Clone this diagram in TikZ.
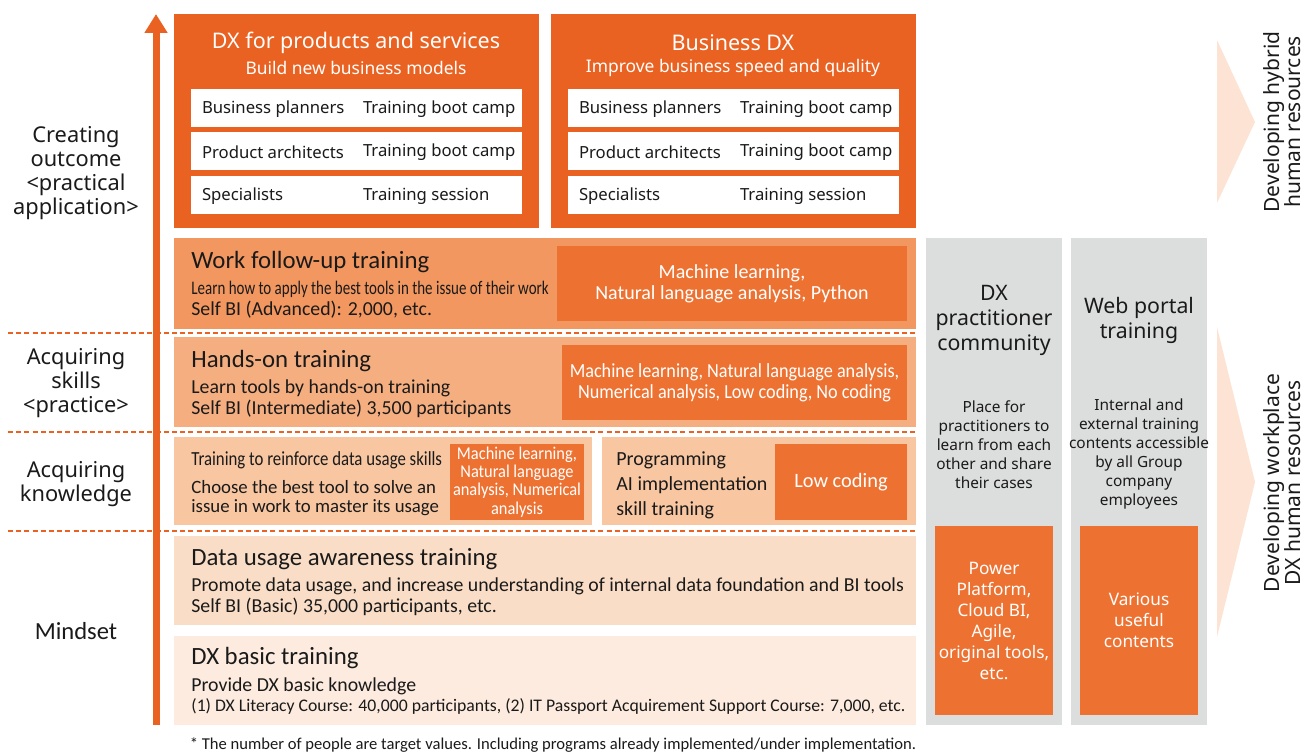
\documentclass[tikz,border=0pt]{standalone}
\usepackage{fontspec}
\setmainfont{Noto Sans}
\newfontfamily\calfont{Carlito}
\newfontfamily\narrowfont{Carlito}[FakeStretch=0.84]
\newfontfamily\slimfont{Carlito}[FakeStretch=0.78]
\newfontfamily\tightfont{Carlito}[FakeStretch=0.91]
\usetikzlibrary{arrows.meta,positioning,calc,fit}
\definecolor{Orange}{HTML}{EA6221}
\definecolor{Inner}{HTML}{ED7232}
\definecolor{Work}{HTML}{F2975F}
\definecolor{Hands}{HTML}{F5AE80}
\definecolor{Reinf}{HTML}{F8C6A1}
\definecolor{Aware}{HTML}{FADDC6}
\definecolor{Basic}{HTML}{FCEBDE}
\definecolor{Grey}{HTML}{DCDDDD}
\definecolor{Peach}{HTML}{FCE3D3}
\definecolor{Ink}{HTML}{1A1A1A}
\tikzset{
  panel/.style={inner sep=0pt,draw=none},
  heading/.style={anchor=west,inner sep=0pt,text=Ink,
    font=\calfont\fontsize{12.4}{14}\selectfont},
  detail/.style={anchor=west,inner sep=0pt,text=Ink,
    font=\calfont\fontsize{9.9}{11}\selectfont},
  tool/.style={inner sep=0pt,align=center,text=white,
    font=\calfont\fontsize{10}{10.5}\selectfont},
  stage/.style={inner sep=0pt,align=center,text=Ink,
    font=\fontsize{10.9}{12}\selectfont},
  rowtext/.style={anchor=west,inner sep=0pt,text=Ink,
    font=\fontsize{8.35}{10}\selectfont},
  sidetitle/.style={inner sep=0pt,align=center,text=Ink,
    font=\fontsize{10.65}{12.5}\selectfont},
  sidetext/.style={inner sep=0pt,align=center,text=Ink,
    font=\fontsize{7.7}{9.5}\selectfont},
  level/.style={Orange,line width=0.7pt,dash pattern=on 2.5pt off 1.6pt},
  growth/.style={Orange,line width=3.5pt,-{Triangle[width=11pt,length=9.5pt]}}
}
\begin{document}
\begin{tikzpicture}[x=0.5pt,y=-0.5pt]
  \useasboundingbox (0,0) rectangle (1307,754);
  % level separators
  \foreach \y in {333,432,531}
    \draw[level] (8,\y) -- (916,\y);
  % growth arrow
  \coordinate (base) at (156,725);
  \coordinate (peak) at (156,14);
  \draw[growth] (base) -- (peak);
  % stage labels
  \node[stage] (outcome) at (76,173) {Creating\\outcome\\<practical\\application>};
  \node[stage] (skills) at (76,383) {Acquiring\\skills\\<practice>};
  \node[stage] (knowledge) at (76,484) {Acquiring\\knowledge};
  \node[stage,font=\calfont\fontsize{12.3}{14}\selectfont] (mindset) at (76,631) {Mindset};
  % top blocks
  \foreach \blk/\dx/\title/\sub in {prod/0/DX for products and services/Build new business models,
      biz/377/Business DX/Improve business speed and quality} {
    \node[panel,fill=Orange,fit={(174+\dx,14) (539+\dx,228)}] (\blk) {};
    \node[inner sep=0pt,text=white,font=\fontsize{10.75}{12}\selectfont]
      (\blk-title) at (356+\dx,43) {\title};
    \node[inner sep=0pt,text=white,font=\fontsize{8.7}{10}\selectfont]
      (\blk-sub) at (356+\dx,68) {\sub};
    \foreach \i/\y/\who/\how in {1/89/Business planners/Training boot camp,
        2/132/Product architects/Training boot camp,
        3/176/Specialists/Training session} {
      \node[panel,fill=white,fit={(191+\dx,\y) (522+\dx,\y+38)}] (\blk-row\i) {};
      \node[rowtext] (\blk-who\i) at ($(\blk-row\i.west)+(11,1)$) {\who};
      \node[rowtext] (\blk-how\i) at ($(\blk-row\i.west)+(172,1)$) {\how};
    }
  }
  % work follow-up
  \node[panel,fill=Work,fit={(174,238) (916,329)}] (work) {};
  \node[panel,fill=Inner,fit={(557,246) (907,321)}] (work-tools) {};
  \node[heading] (work-title) at (191,262) {Work follow-up training};
  \node[detail,font=\slimfont\fontsize{9.6}{10}\selectfont] (work-aim) at (191,289)
    {Learn how to apply the best tools in the issue of their work};
  \node[detail] (work-count) at (191,310) {Self BI (Advanced): 2,000, etc.};
  \node[tool] at (work-tools) {Machine learning,\\Natural language analysis, Python};
  % hands-on
  \node[panel,fill=Hands,fit={(174,337) (916,427)}] (hands) {};
  \node[panel,fill=Inner,fit={(562,345) (907,420)}] (hands-tools) {};
  \node[heading] (hands-title) at (191,361) {Hands-on training};
  \node[detail] (hands-aim) at (191,388) {Learn tools by hands-on training};
  \node[detail] (hands-count) at (191,409) {Self BI (Intermediate) 3,500 participants};
  \node[tool,font=\tightfont\fontsize{10}{10.5}\selectfont] at (hands-tools)
    {Machine learning, Natural language analysis,\\Numerical analysis, Low coding, No coding};
  % knowledge row
  \node[panel,fill=Reinf,fit={(174,437) (592,525)}] (reinf) {};
  \node[panel,fill=Inner,fit={(450,444) (584,520)}] (reinf-tools) {};
  \node[detail,font=\narrowfont\fontsize{10}{11}\selectfont] (reinf-title) at (191,460)
    {Training to reinforce data usage skills};
  \node[detail,font=\calfont\fontsize{9.4}{11}\selectfont] (reinf-aim1) at (191,487)
    {Choose the best tool to solve an};
  \node[detail,font=\calfont\fontsize{9.4}{11}\selectfont] (reinf-aim2) at (191,508)
    {issue in work to master its usage};
  \node[tool,font=\tightfont\fontsize{9}{9.2}\selectfont] at (reinf-tools)
    {Machine learning,\\Natural language\\analysis, Numerical\\analysis};
  \node[panel,fill=Reinf,fit={(602,437) (916,525)}] (prog) {};
  \node[panel,fill=Inner,fit={(775,444) (907,520)}] (prog-tools) {};
  \node[inner sep=0pt,align=left,text=Ink,anchor=west,
    font=\calfont\fontsize{10}{12.5}\selectfont] (prog-title) at (616,485)
    {Programming\\AI implementation\\skill training};
  \node[tool,font=\calfont\fontsize{10.2}{11}\selectfont] at (prog-tools) {Low coding};
  % mindset
  \node[panel,fill=Aware,fit={(174,536) (916,625)}] (aware) {};
  \node[heading] (aware-title) at (191,559) {Data usage awareness training};
  \node[detail] (aware-aim) at (191,586)
    {Promote data usage, and increase understanding of internal data foundation and BI tools};
  \node[detail] (aware-count) at (191,607) {Self BI (Basic) 35,000 participants, etc.};
  \node[panel,fill=Basic,fit={(174,636) (916,725)}] (basic) {};
  \node[heading] (basic-title) at (191,658) {DX basic training};
  \node[detail] (basic-aim) at (191,686) {Provide DX basic knowledge};
  \node[detail,font=\calfont\fontsize{8.85}{10}\selectfont] (basic-count) at (191,706)
    {(1) DX Literacy Course: 40,000 participants, (2) IT Passport Acquirement Support Course: 7,000, etc.};
  % side columns
  \node[panel,fill=Grey,fit={(926,238) (1062,725)}] (comm) {};
  \node[panel,fill=Inner,fit={(935,526) (1053,715)}] (comm-tools) {};
  \node[sidetitle] (comm-title) at (994,320) {DX\\practitioner\\community};
  \node[sidetext] (comm-text) at (994,445)
    {Place for\\practitioners to\\learn from each\\other and share\\their cases};
  \node[tool,font=\fontsize{8.6}{10.5}\selectfont] at (comm-tools)
    {Power\\Platform,\\Cloud BI,\\Agile,\\original tools,\\etc.};
  \node[panel,fill=Grey,fit={(1071,238) (1207,725)}] (portal) {};
  \node[panel,fill=Inner,fit={(1080,526) (1198,715)}] (portal-tools) {};
  \node[sidetitle] (portal-title) at (1139,320) {Web portal\\training};
  \node[sidetext] (portal-text) at (1139,454)
    {Internal and\\external training\\contents accessible\\by all Group\\company\\employees};
  \node[tool,font=\fontsize{8.6}{10.5}\selectfont] at (portal-tools) {Various\\useful\\contents};
  % goals
  \fill[Peach] (1217,40) -- (1255,122) -- (1217,203) -- cycle;
  \fill[Peach] (1217,327) -- (1255,482) -- (1217,637) -- cycle;
  \node[sidetitle,rotate=90,font=\fontsize{10.5}{10.5}\selectfont] (hybrid) at (1282,122)
    {Developing hybrid\\human resources};
  \node[sidetitle,rotate=90,font=\fontsize{10.5}{10.5}\selectfont] (workplace) at (1282,483)
    {Developing workplace\\DX human resources};
  % note
  \node[inner sep=0pt,text=Ink,font=\calfont\fontsize{8.3}{10}\selectfont] (note) at (553,745)
    {* The number of people are target values. Including programs already implemented/under implementation.};
\end{tikzpicture}
\end{document}
